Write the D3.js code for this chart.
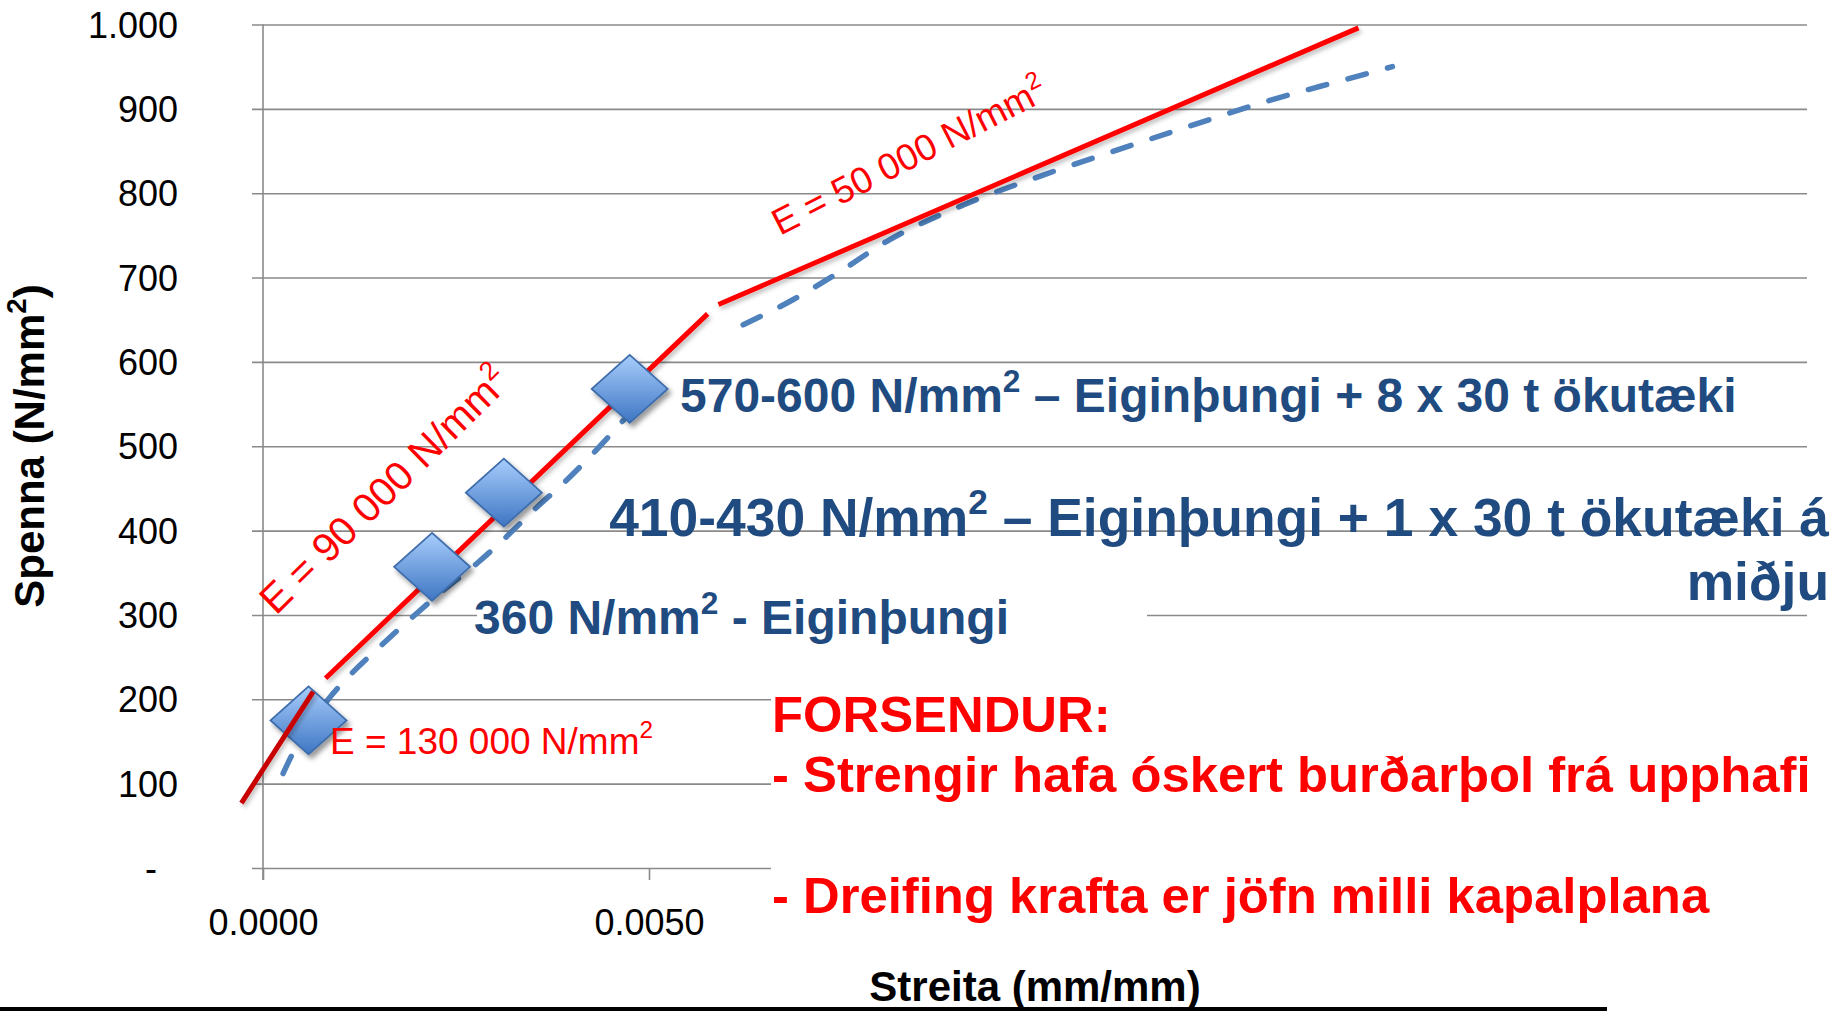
<!DOCTYPE html>
<html><head><meta charset="utf-8">
<script src="https://cdn.jsdelivr.net/npm/d3@7"></script>
<style>
html,body{margin:0;padding:0;background:#fff;}
svg{display:block;font-family:"Liberation Sans",Arial,Helvetica,sans-serif;}
</style></head><body>
<svg id="chart" width="1845" height="1011"></svg>
<script>
// ---- data ----
const xTicks = [0, 0.005];
const yTicks = [0, 100, 200, 300, 400, 500, 600, 700, 800, 900, 1000];
const yTickLabels = ["-", "100", "200", "300", "400", "500", "600", "700", "800", "900", "1.000"];

const pointStrain = [0.00059, 0.00219, 0.00312, 0.00475];
const pointStress = [175, 357, 445, 568];

const fit130Strain = [-0.00028, 0.00065];
const fit130Stress = [77, 209];
const fit90Strain = [0.00081, 0.00576];
const fit90Stress = [225, 657];
const fit50Strain = [0.0059, 0.01419];
const fit50Stress = [668, 996];

const measLowStrain = [0.00026, 0.00037, 0.00060, 0.00083, 0.00113, 0.00152, 0.00193, 0.00236, 0.00277, 0.00311, 0.00355, 0.00389, 0.00424, 0.00467];
const measLowStress = [112, 133, 166, 198, 229, 263, 297, 331, 361, 389, 428, 456, 488, 531];
const measHighStrain = [0.00622, 0.00687, 0.00737, 0.00812, 0.00907, 0.01006, 0.01106, 0.01205, 0.01304, 0.01399, 0.01463];
const measHighStress = [644, 674, 701, 745, 786, 820, 851, 881, 910, 934, 950];

const xTitle = "Streita (mm/mm)";
const yTitle = "Spenna (N/mm²)";

// ---- scales ----
const x = d3.scaleLinear().domain([0, 0.02]).range([263, 1807]);
const y = d3.scaleLinear().domain([0, 1000]).range([868, 24.5]);
const zip = (a, b) => a.map((v, i) => [v, b[i]]);

const svg = d3.select("#chart");
const defs = svg.append("defs");
const grad = defs.append("linearGradient").attr("id", "dg")
  .attr("x1", 0).attr("y1", 0).attr("x2", 0).attr("y2", 1);
grad.append("stop").attr("offset", "0%").attr("stop-color", "#a8cdfc");
grad.append("stop").attr("offset", "100%").attr("stop-color", "#3e76c3");
const f1 = defs.append("filter").attr("id", "sh").attr("x", "-40%").attr("y", "-40%").attr("width", "180%").attr("height", "180%");
f1.append("feDropShadow").attr("dx", 3).attr("dy", 4).attr("stdDeviation", 2.5)
  .attr("flood-color", "#000").attr("flood-opacity", 0.4);
const f2 = defs.append("filter").attr("id", "lsh").attr("x", "-20%").attr("y", "-20%").attr("width", "140%").attr("height", "140%");
f2.append("feDropShadow").attr("dx", 2).attr("dy", 3).attr("stdDeviation", 2)
  .attr("flood-color", "#000").attr("flood-opacity", 0.25);

const gridColor = "#8a8a8a";

// text helper: renders "²" as a raised smaller "2"
function supText(t, str, fs) {
  const parts = str.split("²");
  parts.forEach((p, i) => {
    if (i > 0) {
      t.append("tspan").attr("dy", -0.42 * fs).attr("font-size", 0.66 * fs).text("2");
      t.append("tspan").attr("dy", 0.42 * fs).text(p);
    } else if (p.length) {
      t.append("tspan").text(p);
    }
  });
  return t;
}

// ---- y axis with gridlines ----
const yAxisG = svg.append("g").attr("transform", `translate(${x(0)},0)`)
  .call(d3.axisLeft(y).tickValues(yTicks)
    .tickSizeInner(-(x(0.02) - x(0))).tickSizeOuter(0).tickPadding(85)
    .tickFormat((d, i) => yTickLabels[i]));
yAxisG.select(".domain").remove();
yAxisG.selectAll(".tick line").attr("x1", -11).attr("stroke", gridColor).attr("stroke-width", 1.6);
yAxisG.selectAll(".tick text")
  .attr("font-size", 36).attr("fill", "#000")
  .attr("font-family", "Liberation Sans, Arial, sans-serif")
  .attr("dy", 12.5)
  .attr("x", d => d === 0 ? -106 : -85);

svg.append("line").attr("x1", x(0)).attr("x2", x(0)).attr("y1", y(1000)).attr("y2", y(0) + 12)
  .attr("stroke", gridColor).attr("stroke-width", 1.6);

// ---- x axis ----
const xAxisG = svg.append("g").attr("transform", `translate(0,${y(0)})`)
  .call(d3.axisBottom(x).tickValues(xTicks).tickSizeInner(12).tickSizeOuter(0)
    .tickFormat(d3.format(".4f")));
xAxisG.select(".domain").remove();
xAxisG.selectAll(".tick line").attr("stroke", gridColor).attr("stroke-width", 1.6);
xAxisG.selectAll(".tick text").attr("font-size", 36).attr("fill", "#000")
  .attr("font-family", "Liberation Sans, Arial, sans-serif")
  .attr("y", 67).attr("dy", 0);

// ---- white text boxes covering parts of the grid ----
svg.append("rect").attr("x", 477).attr("y", 585).attr("width", 670).attr("height", 62).attr("fill", "#fff");
svg.append("rect").attr("x", 771).attr("y", 655).attr("width", 1074).attr("height", 352).attr("fill", "#fff");

// ---- measured curve (blue dashed) ----
const line = d3.line().x(d => x(d[0])).y(d => y(d[1])).curve(d3.curveMonotoneX);
[zip(measLowStrain, measLowStress), zip(measHighStrain, measHighStress)].forEach(pts => {
  svg.append("path").attr("d", line(pts)).attr("fill", "none")
    .attr("stroke", "#4f81bd").attr("stroke-width", 5.5)
    .attr("stroke-dasharray", "19 22").attr("stroke-linecap", "round");
});

// ---- fitted E lines ----
const lin = d3.line().x(d => x(d[0])).y(d => y(d[1]));
svg.append("path").attr("d", lin(zip(fit90Strain, fit90Stress))).attr("fill", "none")
  .attr("stroke", "#ff0000").attr("stroke-width", 5).attr("filter", "url(#lsh)");
svg.append("path").attr("d", lin(zip(fit50Strain, fit50Stress))).attr("fill", "none")
  .attr("stroke", "#ff0000").attr("stroke-width", 5).attr("filter", "url(#lsh)");

// ---- diamond markers ----
const hw = 38, hh = 34;
svg.selectAll("path.pt").data(zip(pointStrain, pointStress)).join("path")
  .attr("class", "pt")
  .attr("d", d => {
    const cx = x(d[0]), cy = y(d[1]);
    return `M${cx - hw},${cy}L${cx},${cy - hh}L${cx + hw},${cy}L${cx},${cy + hh}Z`;
  })
  .attr("fill", "url(#dg)").attr("stroke", "#3d6cab").attr("stroke-width", 1.8)
  .attr("filter", "url(#sh)");

svg.append("path").attr("d", lin(zip(fit130Strain, fit130Stress))).attr("fill", "none")
  .attr("stroke", "#c80000").attr("stroke-width", 5).attr("filter", "url(#lsh)");

// ---- annotations ----
const red = "#ff0000", blue = "#1f4b80";
supText(svg.append("text").attr("x", 330).attr("y", 754).attr("font-size", 37).attr("fill", red),
  "E = 130 000 N/mm²", 37);
supText(svg.append("text").attr("transform", "translate(276,616) rotate(-44.5)").attr("font-size", 40.5).attr("fill", red),
  "E = 90 000 N/mm²", 40.5);
supText(svg.append("text").attr("transform", "translate(780,236) rotate(-27)").attr("font-size", 37).attr("fill", red),
  "E = 50 000 N/mm²", 37);

supText(svg.append("text").attr("x", 680).attr("y", 412).attr("font-size", 48).attr("font-weight", "bold").attr("fill", blue),
  "570-600 N/mm² – Eiginþungi + 8 x 30 t ökutæki", 48);
supText(svg.append("text").attr("x", 1829).attr("y", 536).attr("text-anchor", "end").attr("font-size", 53.4).attr("font-weight", "bold").attr("fill", blue),
  "410-430 N/mm² – Eiginþungi + 1 x 30 t ökutæki á", 53.4);
svg.append("text").attr("x", 1829).attr("y", 600).attr("text-anchor", "end").attr("font-size", 53.4).attr("font-weight", "bold").attr("fill", blue)
  .text("miðju");
supText(svg.append("text").attr("x", 474).attr("y", 634).attr("font-size", 48).attr("font-weight", "bold").attr("fill", blue),
  "360 N/mm² - Eiginþungi", 48);

const tF = svg.append("text").attr("font-size", 50.8).attr("font-weight", "bold").attr("fill", red);
tF.append("tspan").attr("x", 772).attr("y", 732).text("FORSENDUR:");
tF.append("tspan").attr("x", 772).attr("y", 792).text("- Strengir hafa óskert burðarþol frá upphafi");
tF.append("tspan").attr("x", 772).attr("y", 913).text("- Dreifing krafta er jöfn milli kapalplana");

// ---- axis titles ----
svg.append("text").attr("x", 1035).attr("y", 1001).attr("text-anchor", "middle")
  .attr("font-size", 42).attr("font-weight", "bold").attr("fill", "#000").text(xTitle);
supText(svg.append("text").attr("transform", "translate(44,446) rotate(-90)").attr("text-anchor", "middle")
  .attr("font-size", 42).attr("font-weight", "bold").attr("fill", "#000"), yTitle, 42);

// bottom rule
svg.append("rect").attr("x", 0).attr("y", 1007).attr("width", 1607).attr("height", 4).attr("fill", "#000");
</script>
</body></html>
